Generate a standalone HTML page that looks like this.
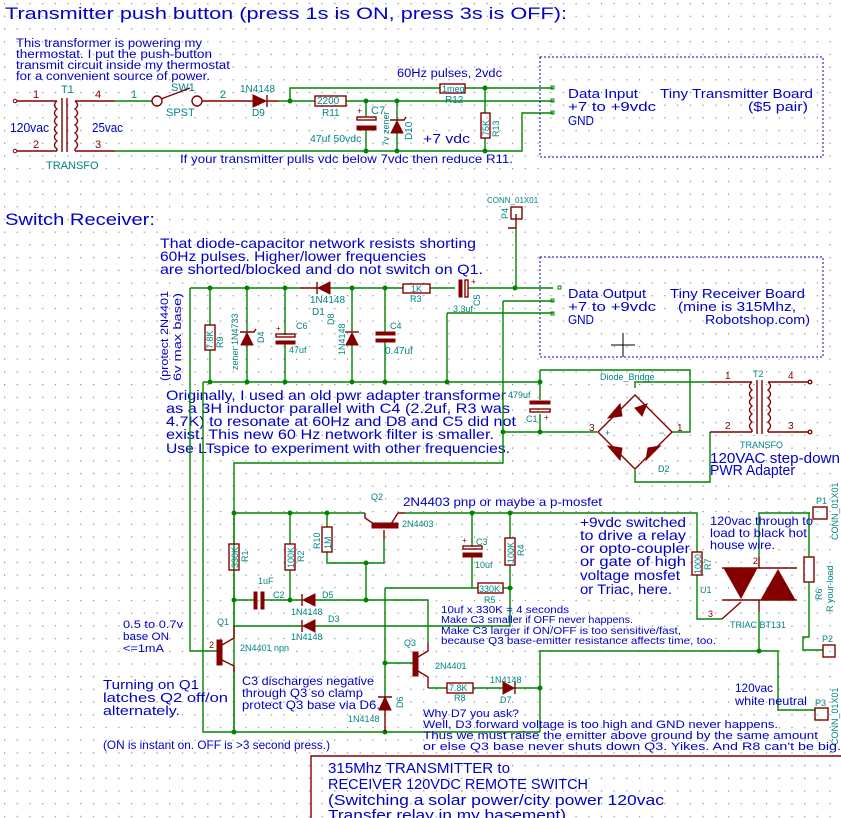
<!DOCTYPE html>
<html><head><meta charset="utf-8"><style>
html,body{margin:0;padding:0;background:#fff;}
svg{display:block;font-family:"Liberation Sans",sans-serif;}
.b{fill:#0000c8;}
.t{fill:#008484;}
.w{stroke:#008400;stroke-width:1.4;fill:none;}
.r{stroke:#840000;stroke-width:1.4;fill:none;}
.rf{fill:#840000;stroke:#840000;stroke-width:1;}
.j{fill:#008400;}
</style></head><body>
<svg width="841" height="818" viewBox="0 0 841 818" xmlns="http://www.w3.org/2000/svg">
<defs>
<pattern id="g" x="4" y="3" width="12.7" height="12.7" patternUnits="userSpaceOnUse"><rect width="1.2" height="1.2" fill="#8a8a8a"/></pattern>
</defs>
<rect width="841" height="818" fill="#fff"/>
<rect width="841" height="818" fill="url(#g)"/>

<text x="5" y="19" class="b" font-size="17" textLength="562" lengthAdjust="spacingAndGlyphs">Transmitter push button (press 1s is ON, press 3s is OFF):</text>
<text x="5" y="225" class="b" font-size="17" textLength="150" lengthAdjust="spacingAndGlyphs">Switch Receiver:</text>

<g class="b" font-size="11.5">
<text x="16" y="47" textLength="186" lengthAdjust="spacingAndGlyphs">This transformer is powering my</text>
<text x="16" y="58" textLength="196" lengthAdjust="spacingAndGlyphs">thermostat. I put the push-button</text>
<text x="16" y="69" textLength="214" lengthAdjust="spacingAndGlyphs">transmit circuit inside my thermostat</text>
<text x="16" y="80" textLength="194" lengthAdjust="spacingAndGlyphs">for a convenient source of power.</text>
<text x="397" y="77" textLength="105" lengthAdjust="spacingAndGlyphs">60Hz pulses, 2vdc</text>
<text x="423" y="143" font-size="13" textLength="47" lengthAdjust="spacingAndGlyphs">+7 vdc</text>
<text x="180" y="163" font-size="12" textLength="333" lengthAdjust="spacingAndGlyphs">If your transmitter pulls vdc below 7vdc then reduce R11.</text>
<text x="10" y="132" font-size="13" textLength="39" lengthAdjust="spacingAndGlyphs">120vac</text>
<text x="92" y="132" font-size="13" textLength="31" lengthAdjust="spacingAndGlyphs">25vac</text>
</g>

<circle cx="15" cy="101" r="1.8" fill="none" stroke="#840000"/>
<circle cx="15" cy="151" r="1.8" fill="none" stroke="#840000"/>
<path class="r" d="M17 101H57 M17 151H57 M75 101H115 M75 151H115 M62 98V152 M67 98V152"/>
<path class="r" d="M57 101 q-5 4 0 8 q-5 4 0 8 q-5 4 0 8 q-5 4 0 8 q-5 4 0 8 q-5 4 0 8 V151 M75 101 q5 4 0 8 q5 4 0 8 q5 4 0 8 q5 4 0 8 q5 4 0 8 q5 4 0 8 V151"/>
<g font-size="11"><text x="33" y="98" fill="#840000">1</text><text x="33" y="148" fill="#840000">2</text><text x="95" y="98" fill="#840000">4</text><text x="95" y="148" fill="#840000">3</text>
<text x="61" y="93" class="t">T1</text><text x="46" y="169" class="t">TRANSFO</text>
<text x="131" y="98" class="t">1</text><text x="220" y="98" class="t">2</text>
<text x="171" y="91" class="t">SW1</text><text x="166" y="116" class="t">SPST</text>
<text x="240" y="92" class="t" font-size="10">1N4148</text><text x="252" y="116" class="t" font-size="10">D9</text></g>
<path class="w" d="M115 101H152 M115 151H522V113H553"/>
<circle cx="157" cy="101" r="5" class="r"/><circle cx="197" cy="101" r="5" class="r"/>
<path class="r" d="M161 99L190 88 M202 101H253"/>
<path class="rf" d="M253 95L266 101L253 107Z"/><path class="r" d="M267 95V107 M267 101H278"/>
<path class="w" d="M278 101H315 M346 101H553 M290 101V88H440 M465 88H553"/>
<circle cx="290" cy="101" r="2.5" class="j"/>
<rect x="315" y="96" width="31" height="10" class="r" fill="#fff"/>
<text x="317" y="104" class="t" font-size="10">2200</text><text x="322" y="116" class="t" font-size="10">R11</text>
<rect x="440" y="84" width="25" height="9" class="r" fill="#fff"/>
<text x="442" y="92" class="t" font-size="9">1meg</text><text x="445" y="103" class="t" font-size="10">R12</text>
<path class="w" d="M366 101V117 M366 130V151 M397 101V120 M397 133V151 M485 88V113 M485 138V151"/>
<circle cx="366" cy="101" r="2.5" class="j"/><circle cx="397" cy="101" r="2.5" class="j"/><circle cx="366" cy="151" r="2.5" class="j"/><circle cx="397" cy="151" r="2.5" class="j"/><circle cx="485" cy="88" r="2.5" class="j"/><circle cx="485" cy="151" r="2.5" class="j"/>
<rect x="357" y="117" width="19" height="3" class="r"/><rect x="357" y="126" width="19" height="4" class="rf"/>
<text x="357" y="114" fill="#840000" font-size="9">+</text>
<text x="371" y="114" class="t" font-size="11">C7</text><text x="310" y="142" class="t" font-size="10.5">47uf 50vdc</text>
<path class="rf" d="M391 133L397 121L403 133Z"/><path class="r" d="M390 120H404 L406 117"/>
<text class="t" font-size="9" transform="translate(389,146) rotate(-90)">7v zener</text>
<text class="t" font-size="10" transform="translate(412,140) rotate(-90)">D10</text>
<rect x="481" y="113" width="9" height="25" class="r" fill="#fff"/>
<text class="t" font-size="9" transform="translate(489,136) rotate(-90)">75K</text>
<text class="t" font-size="9" transform="translate(499,137) rotate(-90)">R13</text>

<rect x="540" y="57" width="283" height="100" fill="none" stroke="#0000c8" stroke-dasharray="2,2"/>
<g fill="none" stroke="#008400"><rect x="551" y="86" width="3" height="3"/><rect x="551" y="99" width="3" height="3"/><rect x="551" y="111" width="3" height="3"/></g>
<g class="b" font-size="13">
<text x="568" y="98" textLength="70" lengthAdjust="spacingAndGlyphs">Data Input</text>
<text x="660" y="98" textLength="153" lengthAdjust="spacingAndGlyphs">Tiny Transmitter Board</text>
<text x="568" y="111" textLength="88" lengthAdjust="spacingAndGlyphs">+7 to +9vdc</text>
<text x="748" y="111" textLength="60" lengthAdjust="spacingAndGlyphs">($5 pair)</text>
<text x="568" y="125" textLength="26" lengthAdjust="spacingAndGlyphs">GND</text>
</g>

<rect x="511" y="207" width="11" height="12" class="r"/>
<text x="487" y="203" class="t" font-size="8">CONN_01X01</text>
<text class="t" font-size="9" transform="translate(508,219) rotate(-90)">P4</text>
<path class="r" d="M516 214V228H508"/>
<path class="w" d="M516 228V288"/>
<rect x="540" y="257" width="283" height="100" fill="none" stroke="#0000c8" stroke-dasharray="2,2"/>
<path d="M623 333V357 M611 345H635" stroke="#000" stroke-width="1"/>
<g fill="none" stroke="#008400"><rect x="558" y="286" width="3" height="3"/><rect x="551" y="299" width="3" height="3"/><rect x="551" y="312" width="3" height="3"/></g>
<g class="b" font-size="13">
<text x="568" y="298" textLength="78" lengthAdjust="spacingAndGlyphs">Data Output</text>
<text x="670" y="298" textLength="135" lengthAdjust="spacingAndGlyphs">Tiny Receiver Board</text>
<text x="568" y="311" textLength="88" lengthAdjust="spacingAndGlyphs">+7 to +9vdc</text>
<text x="678" y="311" textLength="118" lengthAdjust="spacingAndGlyphs">(mine is 315Mhz,</text>
<text x="568" y="324" textLength="26" lengthAdjust="spacingAndGlyphs">GND</text>
<text x="705" y="324" textLength="105" lengthAdjust="spacingAndGlyphs">Robotshop.com)</text>
</g>
<g class="b" font-size="14">
<text x="160" y="248" textLength="316" lengthAdjust="spacingAndGlyphs">That diode-capacitor network resists shorting</text>
<text x="160" y="261" textLength="266" lengthAdjust="spacingAndGlyphs">60Hz pulses. Higher/lower frequencies</text>
<text x="160" y="274" textLength="323" lengthAdjust="spacingAndGlyphs">are shorted/blocked and do not switch on Q1.</text>
<text x="166" y="400" textLength="340" lengthAdjust="spacingAndGlyphs">Originally, I used an old pwr adapter transformer</text>
<text x="166" y="413" textLength="344" lengthAdjust="spacingAndGlyphs">as a 3H inductor parallel with C4 (2.2uf, R3 was</text>
<text x="166" y="426" textLength="350" lengthAdjust="spacingAndGlyphs">4.7K) to resonate at 60Hz and D8 and C5 did not</text>
<text x="166" y="439" textLength="328" lengthAdjust="spacingAndGlyphs">exist. This new 60 Hz network filter is smaller.</text>
<text x="166" y="453" textLength="344" lengthAdjust="spacingAndGlyphs">Use LTspice to experiment with other frequencies.</text>
</g>
<g class="b" font-size="11">
<text transform="translate(168,381) rotate(-90)" textLength="90" lengthAdjust="spacingAndGlyphs">(protect 2N4401</text>
<text transform="translate(181,381) rotate(-90)" textLength="88" lengthAdjust="spacingAndGlyphs">6v max base)</text>
</g>

<path class="w" d="M190 288H300 M330 288H403 M430 288H455 M468 288H553 M190 288V651H218 M203 382H540 M203 382V732H540 M447 313V382 M447 313H553 M503 301H553 M503 301V463H234V732 M210 288V325 M210 350V382 M247 288V332 M247 345V382 M285 288V335 M285 343V382 M352 288V332 M352 345V382 M385 288V333 M385 341V382"/>
<g class="j"><circle cx="210" cy="288" r="2.5"/><circle cx="247" cy="288" r="2.5"/><circle cx="285" cy="288" r="2.5"/><circle cx="352" cy="288" r="2.5"/><circle cx="385" cy="288" r="2.5"/><circle cx="515" cy="288" r="2.5"/>
<circle cx="210" cy="382" r="2.5"/><circle cx="247" cy="382" r="2.5"/><circle cx="285" cy="382" r="2.5"/><circle cx="352" cy="382" r="2.5"/><circle cx="385" cy="382" r="2.5"/><circle cx="447" cy="382" r="2.5"/><circle cx="540" cy="382" r="2.5"/>
<circle cx="503" cy="432" r="2.5"/><circle cx="540" cy="432" r="2.5"/></g>
<rect x="205" y="325" width="10" height="25" class="r" fill="#fff"/>
<text class="t" font-size="9" transform="translate(213,349) rotate(-90)">7.8K</text>
<text class="t" font-size="9" transform="translate(223,348) rotate(-90)">R9</text>
<path class="rf" d="M241 345L247 333L253 345Z"/><path class="r" d="M240 332H254L256 329"/>
<text class="t" font-size="9" transform="translate(238,370) rotate(-90)">zener 1N4733</text>
<text class="t" font-size="9" transform="translate(264,343) rotate(-90)">D4</text>
<rect x="276" y="334" width="19" height="3" class="r"/><rect x="276" y="341" width="19" height="3" class="rf"/>
<text x="276" y="331" fill="#840000" font-size="8">+</text>
<text x="296" y="329" class="t" font-size="9">C6</text><text x="289" y="353" class="t" font-size="9">47uf</text>
<path class="rf" d="M346 345L352 333L358 345Z"/><path class="r" d="M345 332H359"/>
<text class="t" font-size="9" transform="translate(345,355) rotate(-90)">1N4148</text>
<text class="t" font-size="9" transform="translate(334,325) rotate(-90)">D8</text>
<rect x="376" y="332" width="19" height="3" class="rf"/><rect x="376" y="339" width="19" height="3" class="rf"/>
<text x="390" y="329" class="t" font-size="9">C4</text><text x="385" y="354" class="t" font-size="10">0.47uf</text>
<path class="r" d="M300 288H330"/><path class="rf" d="M330 282L318 288L330 294Z"/><path class="r" d="M317 282V294"/>
<text x="310" y="303" class="t" font-size="10">1N4148</text><text x="312" y="315" class="t" font-size="10">D1</text>
<rect x="403" y="284" width="27" height="9" class="r" fill="#fff"/>
<text x="411" y="292" class="t" font-size="9">1K</text><text x="410" y="302" class="t" font-size="9">R3</text>
<rect x="459" y="280" width="3" height="17" class="rf"/><rect x="465" y="280" width="3" height="17" class="r"/>
<text x="471" y="284" fill="#840000" font-size="8">+</text>
<text x="453" y="312" class="t" font-size="9">3.3uf</text>
<text class="t" font-size="9" transform="translate(480,306) rotate(-90)">C5</text>

<path class="w" d="M540 370H690V432H672 M540 370V400 M540 414V432 M503 432H597 M635 388V382H710 M635 470V482H710V432"/>
<rect x="530" y="401" width="20" height="3" class="rf"/><rect x="530" y="409" width="20" height="3" class="r"/>
<text x="544" y="420" fill="#840000" font-size="8">+</text>
<text x="508" y="398" class="t" font-size="9">479uf</text><text x="526" y="422" class="t" font-size="9">C1</text>
<path class="r" d="M598 432L635 395L672 432L635 469Z"/>
<g class="rf"><path d="M608 418L620 404L622 416Z"/><path d="M635 408L647 404L642 416Z"/><path d="M608 446L622 448L620 460Z"/><path d="M648 448L660 446L646 460Z"/></g>
<text x="600" y="380" class="t" font-size="9">Diode_Bridge</text>
<text x="589" y="431" fill="#840000" font-size="10">3</text><text x="677" y="431" fill="#840000" font-size="10">1</text>
<text x="605" y="436" class="t" font-size="9">+</text><text x="659" y="436" class="t" font-size="9">−</text>
<text x="658" y="472" class="t" font-size="9">D2</text>
<path class="r" d="M710 382H752 M710 432H752 M768 382H808 M768 432H808 M757 380V434 M762 380V434"/>
<path class="r" d="M752 382 q-5 4 0 8 q-5 4 0 8 q-5 4 0 8 q-5 4 0 8 q-5 4 0 8 q-5 4 0 8 V432 M768 382 q5 4 0 8 q5 4 0 8 q5 4 0 8 q5 4 0 8 q5 4 0 8 q5 4 0 8 V432"/>
<circle cx="810" cy="382" r="1.8" class="r"/><circle cx="810" cy="432" r="1.8" class="r"/>
<g fill="#840000" font-size="10"><text x="725" y="379">1</text><text x="725" y="429">2</text><text x="788" y="379">4</text><text x="788" y="429">3</text></g>
<text x="753" y="377" class="t" font-size="9">T2</text><text x="740" y="448" class="t" font-size="9">TRANSFO</text>
<text x="710" y="463" class="b" font-size="15" textLength="130" lengthAdjust="spacingAndGlyphs">120VAC step-down</text>
<text x="710" y="475" class="b" font-size="15" textLength="85" lengthAdjust="spacingAndGlyphs">PWR Adapter</text>

<path class="w" d="M234 513H365 M405 513H697V552 M697 575V619H722 M234 513V544 M234 570V626 M290 513V544 M290 570V600 M327 513V527 M327 552V563H384V540 M366 563V600 M234 600H255 M262 600H302 M315 600H428V643 M234 626H302 M315 626H510V565 M510 513V538 M472 513V547 M472 555V588H478 M503 588H510 M385 588H472 M385 588V697 M385 663H416 M428 688H447 M473 688H503 M513 688H540 M540 650V732 M540 651H778V710H815 M759 612V651 M234 672V732"/>
<g class="j"><circle cx="234" cy="513" r="2.5"/><circle cx="290" cy="513" r="2.5"/><circle cx="327" cy="513" r="2.5"/><circle cx="472" cy="513" r="2.5"/><circle cx="510" cy="513" r="2.5"/>
<circle cx="366" cy="563" r="2.5"/><circle cx="234" cy="600" r="2.5"/><circle cx="290" cy="600" r="2.5"/><circle cx="366" cy="600" r="2.5"/><circle cx="510" cy="588" r="2.5"/>
<circle cx="385" cy="663" r="2.5"/><circle cx="540" cy="688" r="2.5"/><circle cx="759" cy="651" r="2.5"/><circle cx="234" cy="732" r="2.5"/><circle cx="385" cy="732" r="2.5"/></g>
<path class="r" d="M365 513V518L374 524 M405 513H398L391 524 M384 530V540"/>
<rect x="372" y="523" width="26" height="5" class="rf"/>
<text x="371" y="500" class="t" font-size="9">Q2</text><text x="402" y="527" class="t" font-size="9">2N4403</text>
<text x="403" y="506" class="b" font-size="12" textLength="199" lengthAdjust="spacingAndGlyphs">2N4403 pnp or maybe a p-mosfet</text>
<g class="r" fill="#fff"><rect x="229" y="544" width="10" height="26"/><rect x="285" y="544" width="10" height="26"/><rect x="322" y="527" width="10" height="25"/><rect x="505" y="538" width="10" height="27"/><rect x="478" y="583" width="25" height="10"/><rect x="447" y="683" width="26" height="10"/><rect x="692" y="552" width="10" height="23"/><rect x="804" y="557" width="10" height="25"/></g>
<g class="t" font-size="9">
<text transform="translate(238,568) rotate(-90)">330K</text><text transform="translate(248,562) rotate(-90)">R1</text>
<text transform="translate(294,568) rotate(-90)">100K</text><text transform="translate(304,562) rotate(-90)">R2</text>
<text transform="translate(331,549) rotate(-90)">1M</text><text transform="translate(320,549) rotate(-90)">R10</text>
<text transform="translate(514,563) rotate(-90)">100K</text><text transform="translate(524,556) rotate(-90)">R4</text>
<text transform="translate(701,574) rotate(-90)">1000</text><text transform="translate(711,570) rotate(-90)">R7</text>
<text transform="translate(822,600) rotate(-90)">R6</text><text transform="translate(833,612) rotate(-90)">R your-load</text>
<text x="479" y="592">330K</text><text x="484" y="603">R5</text>
<text x="449" y="691">7.8K</text><text x="454" y="701">R8</text>
<text x="258" y="584">1uF</text><text x="273" y="598">C2</text>
<text x="322" y="598">D5</text><text x="291" y="615">1N4148</text>
<text x="328" y="622">D3</text><text x="291" y="640">1N4148</text>
<text x="476" y="545">C3</text><text x="475" y="568">10uf</text>
<text x="217" y="625">Q1</text><text x="240" y="651">2N4401 npn</text>
<text x="404" y="646">Q3</text><text x="435" y="669">2N4401</text>
<text x="348" y="722">1N4148</text><text transform="translate(403,708) rotate(-90)">D6</text>
<text x="490" y="683">1N4148</text><text x="500" y="703">D7</text>
<text x="730" y="628">TRIAC BT131</text><text x="700" y="593">U1</text>
</g>
<rect x="254" y="592" width="3" height="17" class="rf"/><rect x="261" y="592" width="3" height="17" class="rf"/>
<path class="rf" d="M315 594L303 600L315 606Z"/><path class="r" d="M302 594V606"/>
<path class="rf" d="M315 620L303 626L315 632Z"/><path class="r" d="M302 620V632"/>
<rect x="463" y="546" width="19" height="3" class="r"/><rect x="463" y="553" width="19" height="4" class="rf"/>
<text x="462" y="543" fill="#840000" font-size="8">+</text>
<rect x="217" y="640" width="5" height="25" class="rf"/><path class="r" d="M222 645L234 638V626 M222 660L234 666V672"/>
<text x="209" y="648" fill="#840000" font-size="9">2</text>
<rect x="413" y="652" width="5" height="24" class="rf"/><path class="r" d="M418 657L428 651V643 M418 671L428 677V688"/>
<path class="rf" d="M379 710L385 697L391 710Z"/><path class="r" d="M378 697H392 M385 710V732"/>
<path class="rf" d="M503 682L514 688L503 694Z"/><path class="r" d="M515 682V694"/>
<path class="w" d="M759 557V513H810"/>
<path class="r" d="M759 557V568 M722 568H797 M722 600H797 M722 619L741 602 M759 600V612"/>
<path class="rf" d="M724 568L757 568L741 598Z"/><path class="rf" d="M761 600L795 600L778 570Z"/>
<text x="753" y="564" fill="#840000" font-size="9">2</text><text x="708" y="617" fill="#840000" font-size="9">3</text>
<path class="w" d="M809 513V557 M809 582V637H803V650H823"/>
<rect x="813" y="507" width="14" height="12" class="r"/><rect x="823" y="645" width="12" height="12" class="r"/><rect x="815" y="708" width="13" height="12" class="r"/>
<g class="t" font-size="9"><text x="816" y="504">P1</text><text x="822" y="642">P2</text><text x="815" y="706">P3</text>
<text transform="translate(838,540) rotate(-90)">CONN_01X01</text><text transform="translate(838,745) rotate(-90)">CONN_01X01</text></g>

<g class="b">
<text x="580" y="527" font-size="14" textLength="106" lengthAdjust="spacingAndGlyphs">+9vdc switched</text>
<text x="580" y="540" font-size="14" textLength="106" lengthAdjust="spacingAndGlyphs">to drive a relay</text>
<text x="580" y="553" font-size="14" textLength="110" lengthAdjust="spacingAndGlyphs">or opto-coupler</text>
<text x="580" y="566" font-size="14" textLength="106" lengthAdjust="spacingAndGlyphs">or gate of high</text>
<text x="580" y="580" font-size="14" textLength="100" lengthAdjust="spacingAndGlyphs">voltage mosfet</text>
<text x="580" y="594" font-size="14" textLength="92" lengthAdjust="spacingAndGlyphs">or Triac, here.</text>
<text x="710" y="525" font-size="12" textLength="103" lengthAdjust="spacingAndGlyphs">120vac through to</text>
<text x="710" y="537" font-size="12" textLength="97" lengthAdjust="spacingAndGlyphs">load to black hot</text>
<text x="710" y="549" font-size="12" textLength="65" lengthAdjust="spacingAndGlyphs">house wire.</text>
<text x="735" y="692" font-size="12" textLength="38" lengthAdjust="spacingAndGlyphs">120vac</text>
<text x="735" y="705" font-size="12" textLength="72" lengthAdjust="spacingAndGlyphs">white neutral</text>
<text x="123" y="628" font-size="11" textLength="60" lengthAdjust="spacingAndGlyphs">0.5 to 0.7v</text>
<text x="123" y="640" font-size="11" textLength="46" lengthAdjust="spacingAndGlyphs">base ON</text>
<text x="123" y="652" font-size="11" textLength="41" lengthAdjust="spacingAndGlyphs">&lt;=1mA</text>
<text x="103" y="689" font-size="13" textLength="96" lengthAdjust="spacingAndGlyphs">Turning on Q1</text>
<text x="103" y="702" font-size="13" textLength="125" lengthAdjust="spacingAndGlyphs">latches Q2 off/on</text>
<text x="103" y="715" font-size="13" textLength="77" lengthAdjust="spacingAndGlyphs">alternately.</text>
<text x="242" y="685" font-size="12" textLength="132" lengthAdjust="spacingAndGlyphs">C3 discharges negative</text>
<text x="242" y="697" font-size="12" textLength="121" lengthAdjust="spacingAndGlyphs">through Q3 so clamp</text>
<text x="242" y="709" font-size="12" textLength="138" lengthAdjust="spacingAndGlyphs">protect Q3 base via D6.</text>
<text x="103" y="749" font-size="12" textLength="227" lengthAdjust="spacingAndGlyphs">(ON is instant on. OFF is &gt;3 second press.)</text>
<text x="441" y="613" font-size="10" textLength="128" lengthAdjust="spacingAndGlyphs">10uf x 330K = 4 seconds</text>
<text x="441" y="623" font-size="10" textLength="192" lengthAdjust="spacingAndGlyphs">Make C3 smaller if OFF never happens.</text>
<text x="441" y="634" font-size="10" textLength="240" lengthAdjust="spacingAndGlyphs">Make C3 larger if ON/OFF is too sensitive/fast,</text>
<text x="441" y="644" font-size="10" textLength="275" lengthAdjust="spacingAndGlyphs">because Q3 base-emitter resistance affects time, too.</text>
<text x="423" y="717" font-size="11" textLength="96" lengthAdjust="spacingAndGlyphs">Why D7 you ask?</text>
<text x="423" y="728" font-size="11" textLength="355" lengthAdjust="spacingAndGlyphs">Well, D3 forward voltage is too high and GND never happens.</text>
<text x="423" y="739" font-size="11" textLength="395" lengthAdjust="spacingAndGlyphs">Thus we must raise the emitter above ground by the same amount</text>
<text x="423" y="750" font-size="11" textLength="418" lengthAdjust="spacingAndGlyphs">or else Q3 base never shuts down Q3. Yikes. And R8 can't be big.</text>
</g>

<path d="M311 818V756H841" fill="none" stroke="#840000" stroke-width="1.4"/>
<g class="b" font-size="15">
<text x="328" y="773" textLength="182" lengthAdjust="spacingAndGlyphs">315Mhz TRANSMITTER to</text>
<text x="328" y="789" textLength="260" lengthAdjust="spacingAndGlyphs">RECEIVER 120VDC REMOTE SWITCH</text>
<text x="328" y="805" textLength="336" lengthAdjust="spacingAndGlyphs">(Switching a solar power/city power 120vac</text>
<text x="328" y="820" textLength="238" lengthAdjust="spacingAndGlyphs">Transfer relay in my basement)</text>
</g>
</svg>
</body></html>
